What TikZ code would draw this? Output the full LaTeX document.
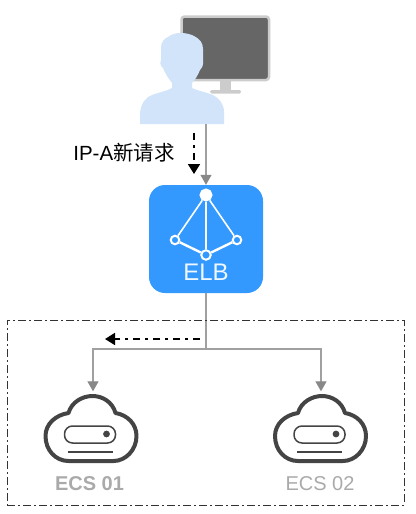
\documentclass[tikz,border=0pt]{standalone}
\usepackage{fontspec}
\setmainfont{Liberation Sans}
\newfontfamily\cjk{Noto Sans CJK SC}
\usepackage{tikz}
\usetikzlibrary{positioning,arrows.meta}
\definecolor{elbblue}{HTML}{3399FF}
\definecolor{userblue}{HTML}{D2E4FA}
\definecolor{screengray}{HTML}{666666}
\definecolor{framegray}{HTML}{CCCCCC}
\definecolor{linegray}{HTML}{A0A0A0}
\definecolor{tipgray}{HTML}{888888}
\definecolor{cloudgray}{HTML}{444444}
\definecolor{labelgray}{HTML}{AAAAAA}
\tikzset{
  link/.style={draw=linegray, line width=1.2pt},
  linkarrow/.style={link, -{Triangle[length=10pt, width=11pt, color=tipgray]}},
  flow/.style={draw=black, line width=1.7pt, dash pattern=on 7pt off 5pt on 3pt off 5pt,
    -{Triangle[length=10pt, width=12pt, color=black]}},
  elbhub/.style={circle, draw=white, fill=elbblue, line width=2pt, inner sep=0pt, minimum size=#1},
  ecslabel/.style={text=labelgray, font=\fontsize{20}{24}\selectfont},
  ecscloud/.pic={
    \draw[cloudgray, line width=4pt, line join=round]
      (-24,17) .. controls (-21,6) and (-10,0) .. (0,0)
      .. controls (10,0) and (20,6) .. (23,17)
      .. controls (35,19) and (44,28) .. (44,40)
      .. controls (44,54) and (33,65) .. (21,65)
      -- (-24,65)
      .. controls (-37,65) and (-47,54) .. (-47,40)
      .. controls (-47,28) and (-37,19) .. (-24,17) -- cycle;
    \draw[cloudgray, line width=1.5pt, rounded corners=8pt] (-28,30) rectangle (23,47);
    \fill[cloudgray] (14,38) circle (3.4);
    \draw[cloudgray, line width=1.6pt] (-25,56) -- (20,56);
  },
}
\begin{document}
\begin{tikzpicture}[x=1pt, y=-1pt]
    \useasboundingbox (0,0) rectangle (415,514);
    % monitor
    \fill[framegray] (220,80) rectangle (231,91);
    \fill[framegray, rounded corners=1.5pt] (210,90) rectangle (241,93.5);
    \draw[framegray, fill=screengray, line width=2.5pt, rounded corners=3pt] (181.5,16.5) rectangle (269,80);
    % user
    \fill[userblue] (140,124) -- (140,113) .. controls (141,103) and (146,97) .. (152,95)
      .. controls (160,92) and (167,91) .. (172,88) -- (172,83)
      .. controls (168,78) and (165,73) .. (163,68) .. controls (160,66) and (160,62) .. (161,60)
      -- (161,47) .. controls (161,42) and (165,38) .. (168,37)
      .. controls (172,34) and (176,33) .. (180,33) .. controls (186,33) and (190,34) .. (194,36)
      .. controls (200,39) and (203,43) .. (203,49) -- (203,60)
      .. controls (204,64) and (202,68) .. (200,70)
      .. controls (198,75) and (195,80) .. (192,83) -- (192,88)
      .. controls (198,91) and (206,92) .. (213,95) .. controls (219,98) and (224,104) .. (224,112)
      -- (224,124) -- cycle;
    \coordinate (userout) at (206,124);
    \node (elb) [fill=elbblue, rounded corners=16pt, minimum width=114pt, minimum height=108pt,
      inner sep=0pt] at (206,239) {};
    \node (elbtop) [elbhub=11pt, fill=white] at (206,195) {};
    \node (elbleft) [elbhub=8.5pt] at (175,240) {};
    \node (elbright) [elbhub=8.5pt] at (237,240) {};
    \node (elbbottom) [elbhub=9.5pt] at (206,255) {};
    \draw[white, line width=1.6pt] (elbtop) -- (elbleft) (elbtop) -- (elbbottom) (elbtop) -- (elbright);
    \draw[white, line width=2.4pt] (elbleft) -- (elbbottom) -- (elbright);
    \node (elbname) [text=white!92!elbblue, font=\fontsize{24}{28}\selectfont] at (206,272.5) {ELB};
    \node (reqlabel) [font=\fontsize{20.5}{24}\selectfont, inner sep=0pt] at (124,153) {IP-A{\cjk 新请求}};
    % connectors
    \coordinate (split) at (206,349);
    \node (ecsa) [inner sep=0pt] at (93,392) {};
    \node (ecsb) [inner sep=0pt] at (321,392) {};
    \pic at (92.5,396) {ecscloud};
    \pic at (322,396) {ecscloud};
    \draw[linkarrow] (userout) -- (elb.north);
    \draw[link] (elb.south) -- (split);
    \draw[linkarrow] (split) -| (ecsa);
    \draw[linkarrow] (split) -| (ecsb);
    \coordinate (reqstart) at (194,133);
    \coordinate (reqend) at (194,174);
    \draw[flow] (reqstart) -- (reqend);
    \coordinate (fwdstart) at (200,339);
    \coordinate (fwdend) at (105,339);
    \draw[flow] (fwdstart) -- (fwdend);
    \node (ecsaname) [ecslabel, font=\fontsize{20}{24}\selectfont\bfseries] at (89.5,484) {ECS 01};
    \node (ecsbname) [ecslabel] at (320,484) {ECS 02};
    % cluster box
    \node (cluster) [draw=black!80, line width=1pt, dash pattern=on 8pt off 3pt on 2pt off 3pt,
      minimum width=397pt, minimum height=185pt, inner sep=0pt] at (205.5,412.5) {};
\end{tikzpicture}
\end{document}
